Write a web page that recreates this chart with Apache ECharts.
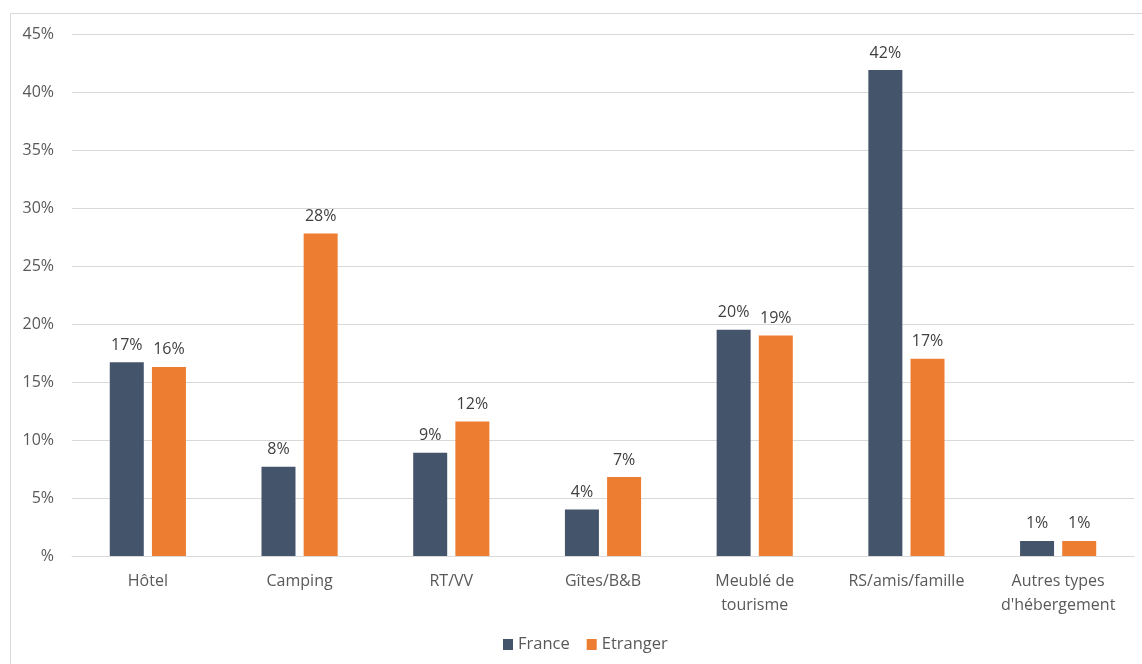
<!DOCTYPE html>
<html>
<head>
<meta charset="utf-8">
<script src="https://cdn.jsdelivr.net/npm/echarts@6/dist/echarts.min.js"></script>
<style>
  html, body { margin: 0; padding: 0; background: #fff; }
  #chart { width: 1142px; height: 664px; }
</style>
</head>
<body>
<div id="chart"></div>
<script>
// Types d'hébergement
const categories = ['Hôtel', 'Camping', 'RT/VV', 'Gîtes/B&B', 'Meublé de\ntourisme', 'RS/amis/famille', 'Autres types\nd\'hébergement'];
// Part des séjours (%)
const france = [16.7, 7.7, 8.9, 4.0, 19.5, 41.9, 1.3];
const etranger = [16.3, 27.8, 11.6, 6.8, 19.0, 17.0, 1.3];
const seriesNames = ['France', 'Etranger'];

const FONT = '"Open Sans", "Noto Sans", sans-serif';

const chart = echarts.init(document.getElementById('chart'), null, { renderer: 'canvas' });

const labelOpt = {
  show: true,
  position: 'top',
  distance: 9,
  fontFamily: FONT,
  fontSize: 16,
  color: '#404040',
  formatter: p => Math.round(p.value) + '%'
};

chart.setOption({
  animation: false,
  backgroundColor: '#fff',
  graphic: [{
    type: 'rect',
    shape: { x: 10.5, y: 13.5, width: 1140, height: 660 },
    style: { fill: 'none', stroke: '#d9d9d9', lineWidth: 1 },
    silent: true,
    z: -1
  }],
  legend: {
    data: seriesNames,
    left: 498,
    top: 631,
    itemWidth: 10,
    itemHeight: 11,
    itemGap: 17,
    icon: 'rect',
    textStyle: { fontFamily: FONT, fontSize: 16.5, color: '#595959' }
  },
  grid: { left: 72, right: 8, top: 34, bottom: 108 },
  xAxis: {
    type: 'category',
    data: categories,
    axisLine: { lineStyle: { color: '#d9d9d9', width: 1 } },
    axisTick: { show: false },
    axisLabel: {
      fontFamily: FONT,
      fontSize: 16,
      color: '#595959',
      margin: 13,
      lineHeight: 24,
      interval: 0
    }
  },
  yAxis: {
    type: 'value',
    min: 0,
    max: 45,
    interval: 5,
    axisLine: { show: false },
    axisTick: { show: false },
    splitLine: { lineStyle: { color: '#d9d9d9', width: 1 } },
    axisLabel: {
      fontFamily: FONT,
      fontSize: 16,
      color: '#595959',
      margin: 18,
      formatter: v => (v === 0 ? '%' : v + '%')
    }
  },
  series: [
    {
      name: seriesNames[0],
      type: 'bar',
      data: france,
      barWidth: 34,
      barGap: '24%',
      itemStyle: { color: '#44546a' },
      label: labelOpt
    },
    {
      name: seriesNames[1],
      type: 'bar',
      data: etranger,
      barWidth: 34,
      barGap: '24%',
      itemStyle: { color: '#ed7d31' },
      label: labelOpt
    }
  ]
});
</script>
</body>
</html>
